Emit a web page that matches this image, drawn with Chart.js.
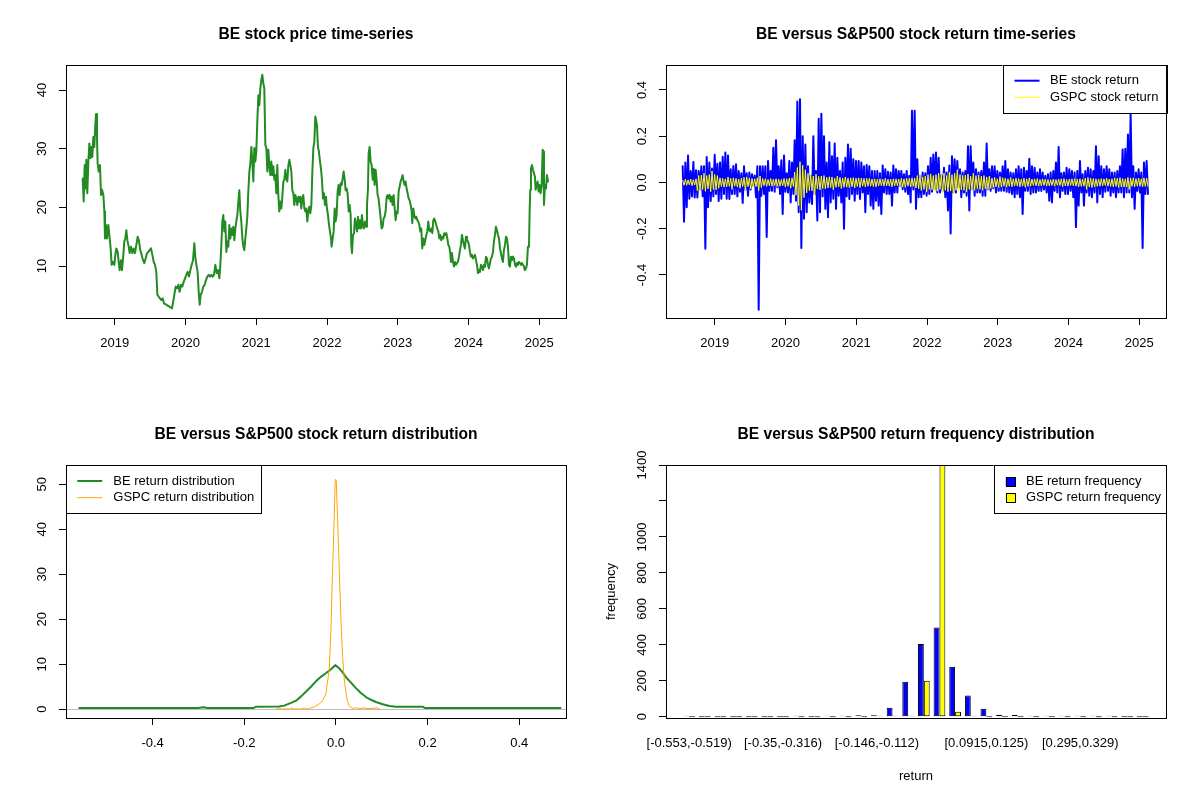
<!DOCTYPE html>
<html><head><meta charset="utf-8">
<script src="https://cdn.jsdelivr.net/npm/chart.js@4.4.1/dist/chart.umd.min.js"></script>
<style>
html,body{margin:0;padding:0;background:#fff;}
#wrap{position:relative;width:1200px;height:800px;background:#fff;}
.cell{position:absolute;width:600px;height:400px;}
canvas{display:block;}
</style></head><body>
<div id="wrap">
<div class="cell" style="left:0;top:0"><canvas id="c1" width="600" height="400"></canvas></div>
<div class="cell" style="left:600px;top:0"><canvas id="c2" width="600" height="400"></canvas></div>
<div class="cell" style="left:0;top:400px"><canvas id="c3" width="600" height="400"></canvas></div>
<div class="cell" style="left:600px;top:400px"><canvas id="c4" width="600" height="400"></canvas></div>
</div>
<script>
// ---------------- DATA ----------------
const yearTicks = [2019, 2020, 2021, 2022, 2023, 2024, 2025];
const priceYTicks = [10, 20, 30, 40];

const priceDates = [
2018.548,2018.562,2018.576,2018.590,2018.599,2018.613,2018.628,2018.642,2018.656,2018.670,
2018.684,2018.698,2018.712,2018.726,2018.736,2018.750,2018.759,2018.774,2018.792,2018.807,
2018.821,2018.840,2018.854,2018.863,2018.877,2018.891,2018.910,2018.929,2018.943,2018.957,
2018.976,2018.995,2019.009,2019.023,2019.042,2019.056,2019.070,2019.089,2019.103,2019.122,
2019.136,2019.150,2019.165,2019.179,2019.198,2019.212,2019.230,2019.249,2019.268,2019.287,
2019.306,2019.325,2019.344,2019.362,2019.381,2019.400,2019.419,2019.438,2019.457,2019.475,
2019.494,2019.513,2019.532,2019.551,2019.570,2019.588,2019.603,2019.621,2019.640,2019.659,
2019.678,2019.697,2019.716,2019.734,2019.753,2019.772,2019.791,2019.810,2019.824,2019.843,
2019.862,2019.880,2019.899,2019.918,2019.937,2019.956,2019.975,2019.994,2020.012,2020.031,
2020.050,2020.069,2020.088,2020.107,2020.125,2020.139,2020.154,2020.172,2020.187,2020.201,
2020.215,2020.234,2020.253,2020.271,2020.290,2020.309,2020.328,2020.347,2020.366,2020.384,
2020.403,2020.422,2020.441,2020.460,2020.479,2020.493,2020.507,2020.521,2020.535,2020.549,
2020.563,2020.578,2020.592,2020.606,2020.620,2020.634,2020.648,2020.662,2020.676,2020.691,
2020.705,2020.719,2020.733,2020.747,2020.761,2020.775,2020.789,2020.804,2020.818,2020.832,
2020.846,2020.860,2020.874,2020.888,2020.903,2020.917,2020.931,2020.945,2020.959,2020.973,
2020.987,2021.001,2021.015,2021.030,2021.044,2021.058,2021.072,2021.086,2021.100,2021.114,
2021.129,2021.143,2021.157,2021.171,2021.185,2021.199,2021.213,2021.228,2021.242,2021.256,
2021.270,2021.284,2021.298,2021.312,2021.326,2021.341,2021.355,2021.369,2021.383,2021.397,
2021.411,2021.425,2021.439,2021.454,2021.468,2021.482,2021.496,2021.510,2021.524,2021.538,
2021.552,2021.567,2021.581,2021.595,2021.609,2021.623,2021.637,2021.651,2021.665,2021.680,
2021.694,2021.708,2021.722,2021.736,2021.750,2021.764,2021.779,2021.793,2021.807,2021.821,
2021.835,2021.858,2021.872,2021.886,2021.901,2021.915,2021.929,2021.943,2021.957,2021.971,
2021.985,2021.999,2022.014,2022.028,2022.042,2022.056,2022.065,2022.080,2022.094,2022.108,
2022.122,2022.136,2022.150,2022.164,2022.178,2022.193,2022.207,2022.221,2022.235,2022.249,
2022.263,2022.277,2022.291,2022.306,2022.320,2022.334,2022.343,2022.353,2022.367,2022.381,
2022.395,2022.409,2022.423,2022.437,2022.452,2022.466,2022.480,2022.494,2022.508,2022.522,
2022.536,2022.551,2022.565,2022.579,2022.588,2022.602,2022.616,2022.631,2022.645,2022.659,
2022.673,2022.687,2022.701,2022.715,2022.729,2022.744,2022.758,2022.772,2022.786,2022.800,
2022.814,2022.828,2022.843,2022.857,2022.871,2022.885,2022.899,2022.913,2022.927,2022.941,
2022.956,2022.970,2022.984,2022.998,2023.012,2023.026,2023.040,2023.054,2023.069,2023.083,
2023.097,2023.111,2023.125,2023.139,2023.153,2023.167,2023.182,2023.196,2023.205,2023.219,
2023.233,2023.248,2023.262,2023.276,2023.290,2023.304,2023.318,2023.332,2023.346,2023.361,
2023.375,2023.389,2023.403,2023.417,2023.431,2023.445,2023.460,2023.474,2023.488,2023.502,
2023.516,2023.530,2023.544,2023.558,2023.573,2023.587,2023.601,2023.615,2023.629,2023.643,
2023.657,2023.671,2023.686,2023.700,2023.714,2023.728,2023.742,2023.752,2023.766,2023.780,
2023.794,2023.808,2023.822,2023.836,2023.850,2023.865,2023.879,2023.893,2023.907,2023.921,
2023.935,2023.949,2023.964,2023.978,2023.992,2024.006,2024.020,2024.034,2024.048,2024.062,
2024.077,2024.091,2024.105,2024.119,2024.133,2024.147,2024.161,2024.175,2024.190,2024.204,
2024.218,2024.232,2024.246,2024.260,2024.274,2024.288,2024.303,2024.317,2024.331,2024.345,
2024.359,2024.373,2024.387,2024.402,2024.416,2024.430,2024.444,2024.458,2024.472,2024.486,
2024.500,2024.515,2024.529,2024.543,2024.557,2024.571,2024.585,2024.599,2024.613,2024.628,
2024.642,2024.656,2024.670,2024.684,2024.698,2024.712,2024.726,2024.741,2024.755,2024.769,
2024.783,2024.797,2024.811,2024.825,2024.839,2024.854,2024.863,2024.872,2024.882,2024.896,
2024.910,2024.924,2024.938,2024.948,2024.962,2024.976,2024.990,2025.004,2025.018,2025.033,
2025.047,2025.056,2025.066,2025.080,2025.094,2025.108,2025.122
];
const priceValues = [
24.9,21.0,27.2,23.2,28.1,22.4,27.8,30.9,28.4,30.3,
28.6,32.0,30.3,34.0,35.9,31.8,27.5,26.1,27.2,22.1,
23.0,22.1,19.3,14.7,17.0,14.7,17.0,14.7,13.0,10.2,
10.7,10.2,11.9,13.0,12.4,10.7,9.3,11.0,9.3,11.9,
14.2,14.7,16.1,14.4,13.3,12.2,13.3,12.2,13.0,12.2,
13.6,15.0,14.2,12.7,11.9,11.0,10.5,11.3,12.2,12.4,
12.7,13.0,11.9,10.7,10.2,9.0,5.1,4.8,4.5,4.2,
4.5,3.6,3.5,3.4,3.2,3.1,2.9,2.8,3.8,5.1,
6.5,6.2,6.8,5.6,6.8,6.5,7.3,7.9,8.5,9.0,
8.2,9.3,10.2,11.0,13.9,11.6,10.2,9.0,5.6,3.4,
5.1,5.6,6.5,6.8,7.6,8.2,8.5,8.2,8.5,8.2,
8.5,10.2,8.8,9.3,7.9,10.2,13.6,17.6,18.7,15.9,
17.6,12.4,14.2,13.3,17.0,14.7,16.4,15.3,16.7,14.4,
16.4,17.6,18.7,21.0,22.9,19.3,17.6,14.7,13.3,12.7,
14.7,16.4,18.4,22.7,26.1,27.5,30.3,27.8,24.4,30.1,
27.8,29.5,34.6,39.1,37.4,40.3,41.7,42.6,41.1,40.3,
30.6,30.1,26.1,29.8,27.2,25.5,27.8,25.5,27.0,24.7,
25.5,22.4,27.2,22.1,19.3,21.0,19.8,21.8,24.4,24.7,
26.4,24.9,24.4,27.2,28.1,27.2,26.1,22.9,22.4,20.4,
22.1,21.5,20.4,21.8,21.0,21.8,19.8,21.5,22.1,19.8,
19.3,19.8,17.6,19.3,20.1,19.0,20.4,26.1,30.1,31.2,
35.5,34.0,30.3,29.5,27.8,26.6,24.7,21.5,22.4,20.4,
21.8,19.8,18.7,17.0,15.9,14.7,13.3,14.7,15.9,19.8,
17.6,18.7,22.7,23.8,22.1,24.1,23.8,24.9,26.1,24.9,
22.9,23.2,22.4,19.3,20.4,18.7,13.6,12.2,15.3,15.6,
18.1,17.0,15.9,18.4,16.4,17.8,16.4,18.7,16.7,16.4,
17.6,16.7,20.4,23.2,29.2,30.3,27.8,27.2,24.7,26.6,
23.8,26.4,24.7,22.1,21.5,19.8,18.1,16.4,16.7,18.1,
18.4,19.3,21.8,22.1,21.5,22.1,21.0,21.8,20.4,22.1,
19.8,17.8,19.3,19.0,22.7,23.5,24.4,24.9,25.5,24.4,
23.8,24.4,23.2,22.4,21.5,21.2,20.4,19.3,17.3,19.8,
18.7,18.1,18.4,17.8,17.6,17.0,15.9,16.4,13.0,14.7,
13.6,14.4,15.3,15.9,17.6,16.1,15.9,16.4,15.6,17.8,
18.1,17.6,17.0,16.4,15.9,14.7,15.3,14.4,15.0,14.7,
15.6,15.3,15.6,14.7,13.6,13.3,12.2,10.7,12.2,10.7,
9.9,10.7,10.2,10.5,10.7,11.6,12.7,13.6,15.3,14.4,
13.6,13.0,15.0,14.4,14.2,13.6,12.4,11.6,11.9,11.3,
11.6,11.9,11.0,10.2,8.8,9.3,9.0,10.2,9.9,9.3,
10.2,9.9,11.6,11.3,10.2,9.6,10.5,11.3,11.6,12.4,
14.2,15.3,16.7,16.1,15.3,14.7,13.0,12.2,11.3,10.7,
12.7,13.6,15.0,14.7,13.3,10.2,9.9,11.6,11.0,11.6,
11.3,10.2,9.9,10.5,10.2,10.7,10.5,10.2,10.5,10.2,
9.9,9.3,9.6,10.2,13.3,13.3,19.3,23.0,26.6,27.2,
26.4,25.8,25.2,23.0,23.8,24.4,22.7,23.8,22.4,23.8,
29.8,29.5,20.4,23.8,23.2,25.5,24.4
];

const returnYTicks = [-0.4, -0.2, 0, 0.2, 0.4];
const returnYTickLabels = ['-0.4', '-0.2', '0.0', '0.2', '0.4'];
const returnSeriesNames = ['BE stock return', 'GSPC stock return'];
const returnStart = 2018.548;
const returnEnd = 2025.122;
const beReturns = [
0.07,-0.17,0.086,-0.107,0.117,-0.07,0.05,-0.06,0.089,-0.065,
0.053,-0.065,0.05,-0.03,0.07,-0.06,0.07,-0.286,0.11,-0.107,
0.086,-0.08,0.06,-0.06,0.12,-0.05,0.081,-0.08,0.086,-0.07,
0.111,-0.05,0.13,-0.07,0.117,-0.071,0.057,-0.05,0.071,-0.05,
0.079,-0.06,0.05,-0.04,0.04,-0.089,0.07,-0.03,0.04,-0.057,
0.043,-0.03,0.036,-0.014,0.03,-0.064,0.07,-0.55,0.07,-0.057,
0.07,-0.05,0.07,-0.236,0.093,-0.036,0.05,-0.036,0.15,-0.04,
0.183,-0.021,0.07,-0.05,0.096,-0.136,0.117,-0.04,0.04,-0.043,
0.093,-0.086,0.086,-0.05,0.183,-0.079,0.35,-0.129,0.36,-0.283,
0.2,-0.157,0.164,-0.129,0.07,-0.086,0.029,-0.093,0.2,-0.05,
0.05,-0.164,0.276,-0.129,0.297,-0.06,0.2,-0.114,0.086,-0.15,
0.174,-0.086,0.114,-0.07,0.169,-0.114,0.107,-0.057,0.05,-0.086,
0.086,-0.2,0.107,-0.06,0.164,-0.071,0.146,-0.05,0.1,-0.079,
0.093,-0.05,0.093,-0.071,0.086,-0.043,0.07,-0.129,0.076,-0.05,
0.07,-0.1,0.05,-0.114,0.05,-0.079,0.05,-0.1,0.04,-0.136,
0.074,-0.043,0.057,-0.05,0.046,-0.05,0.043,-0.1,0.074,-0.043,
0.057,-0.043,0.05,-0.014,0.05,-0.029,0.036,-0.04,0.05,-0.05,
0.029,-0.086,0.31,-0.03,0.31,
-0.114,0.1,-0.064,0.029,-0.064,
0.043,-0.05,0.04,-0.057,0.07,-0.05,0.107,-0.04,0.121,-0.03,
0.13,-0.043,0.107,-0.043,0.03,-0.036,0.064,-0.064,0.043,-0.121,
0.074,-0.221,0.114,-0.043,0.1,-0.043,0.093,-0.021,0.057,-0.064,
0.043,-0.043,0.05,-0.057,0.157,-0.121,0.157,-0.029,0.086,-0.057,
0.057,-0.043,0.043,-0.043,0.05,-0.057,0.086,-0.057,0.169,-0.029,
0.057,-0.036,0.07,-0.025,0.07,-0.043,0.05,-0.036,0.043,-0.036,
0.07,-0.036,0.093,-0.04,0.057,-0.043,0.043,-0.05,0.04,-0.064,
0.057,-0.05,0.07,-0.064,0.057,-0.136,0.064,-0.036,0.05,-0.036,
0.103,-0.05,0.07,-0.043,0.064,-0.043,0.043,-0.036,0.057,-0.036,
0.043,-0.03,0.029,-0.043,0.036,-0.079,0.043,-0.086,0.05,-0.036,
0.086,-0.043,0.154,-0.064,0.04,-0.036,0.043,-0.05,0.064,-0.05,
0.057,-0.036,0.05,-0.064,0.043,-0.193,0.05,-0.1,0.093,-0.043,
0.036,-0.1,0.05,-0.043,0.064,-0.057,0.057,-0.064,0.05,-0.043,
0.157,-0.086,0.114,-0.05,0.07,-0.064,0.057,-0.04,0.07,-0.036,
0.057,-0.057,0.043,-0.043,0.043,-0.064,0.05,-0.043,0.07,-0.043,
0.143,-0.064,0.146,-0.043,0.207,-0.043,0.3,-0.064,0.07,-0.114,
0.043,-0.036,0.057,-0.043,0.043,-0.283,0.086,-0.05,0.093,-0.05
];
const gspcReturns = [
0.01,-0.012,0.014,-0.012,0.011,-0.01,0.015,-0.014,0.012,-0.011,0.016,
-0.036,0.03,-0.035,0.032,-0.03,0.04,-0.038,0.03,-0.028,0.035,-0.04,0.05,-0.03,0.035,-0.032,0.03,-0.025,
0.02,-0.017,0.018,-0.02,0.016,-0.019,0.024,-0.017,0.018,-0.03,0.02,-0.016,0.018,-0.02,0.015,-0.025,
0.019,-0.017,0.022,-0.032,0.024,-0.018,0.02,-0.028,0.017,-0.02,0.016,-0.018,
0.02,-0.035,0.028,-0.022,0.017,-0.014,0.016,-0.017,0.013,-0.014,0.017,-0.016,0.014,-0.013,
0.016,-0.017,0.014,-0.016,0.013,-0.014,0.017,-0.02,0.016,-0.017,0.019,-0.025,0.02,-0.017,
0.045,-0.055,0.065,-0.1,0.09,-0.12,0.075,-0.065,0.055,-0.045,0.04,-0.035,
0.032,-0.036,0.028,-0.057,0.036,-0.028,0.026,-0.032,0.028,-0.026,0.03,-0.028,0.022,-0.024,0.025,
-0.022,0.024,-0.032,0.019,-0.021,0.028,-0.019,0.022,-0.026,0.019,-0.021,0.024,-0.02,0.019,-0.022,
0.02,-0.019,0.021,-0.024,0.019,-0.018,0.02,-0.022,0.019,-0.016,0.018,-0.02,0.019,-0.016,0.018,
-0.016,0.015,-0.018,0.016,-0.019,0.014,-0.015,0.016,-0.014,0.015,-0.016,0.018,-0.015,0.014,-0.016,0.015,-0.019,
0.016,-0.015,0.016,-0.014,0.015,-0.016,0.018,-0.02,0.016,-0.022,0.019,-0.016,0.018,-0.019,0.02,-0.016,0.019,
-0.024,0.03,-0.027,0.032,-0.035,0.024,-0.03,0.027,-0.04,0.034,
-0.03,0.037,-0.032,0.03,-0.04,0.034,-0.037,0.04,-0.03,0.032,
-0.045,0.04,-0.034,0.03,-0.04,0.045,-0.037,0.034,-0.05,0.04,
-0.034,0.055,-0.04,0.034,-0.032,0.03,-0.034,0.032,-0.04,0.037,
-0.03,0.027,-0.032,0.04,-0.034,0.03,-0.027,0.032,-0.03,0.027,
-0.034,0.03,-0.027,0.024,-0.03,0.027,-0.025,
0.019,-0.021,0.022,-0.019,0.016,-0.022,0.026,-0.019,0.021,-0.016,
0.019,-0.02,0.016,-0.017,0.022,-0.019,0.016,-0.015,0.019,-0.016,
0.017,-0.019,0.015,-0.016,0.019,-0.021,0.016,-0.017,0.02,-0.016,
0.015,-0.013,0.016,-0.015,0.017,-0.016,0.013,-0.015,0.016,-0.013,
0.015,-0.016,0.013,-0.015,0.012,-0.013,0.015,-0.016,0.013,-0.012,
0.015,-0.013,0.016,-0.019,0.017,-0.015,0.013,-0.016,0.015,-0.013,
0.016,-0.015,0.017,-0.016,0.015,-0.019,0.016,-0.017,0.015,-0.016,
0.019,-0.03,0.022,-0.02,0.019,-0.022,0.017,-0.019,0.016,-0.017,
0.015,-0.016,0.017,-0.015,0.016,-0.013,0.019,-0.016,0.015,-0.017,
0.016,-0.019,0.02,-0.017,0.019,-0.022,0.021,-0.019,0.017,-0.02,
0.016,-0.019,0.022,-0.03,0.019,-0.017,0.02,-0.019,0.017,-0.016,
0.019,-0.017,0.016,-0.019,0.02,-0.017,0.019,-0.016
];

const densityXTicks = [-0.4, -0.2, 0, 0.2, 0.4];
const densityXTickLabels = ['-0.4', '-0.2', '0.0', '0.2', '0.4'];
const densityYTicks = [0, 10, 20, 30, 40, 50];
const densitySeriesNames = ['BE return distribution', 'GSPC return distribution'];
const beDensityX = [-0.56,-0.30,-0.29,-0.28,-0.18,-0.175,-0.124,-0.113,-0.098,-0.087,-0.0765,-0.0656,-0.0546,-0.0437,-0.0328,-0.0219,-0.0109,-0.0015,0.0073,0.0146,0.0219,0.0328,0.0437,0.0546,0.0656,0.0765,0.0874,0.102,0.117,0.131,0.189,0.195,0.49];
const beDensityY = [0.25,0.25,0.45,0.25,0.25,0.55,0.6,0.8,1.4,1.9,2.8,3.9,5.0,6.2,7.2,8.0,8.9,9.8,9.1,8.2,7.1,5.9,4.7,3.6,2.7,2.1,1.6,1.1,0.7,0.55,0.55,0.25,0.25];
const gspcDensityX = [-0.13,-0.125,-0.12,-0.10,-0.097,-0.093,-0.075,-0.07,-0.065,-0.06,-0.0546,-0.0474,-0.0364,-0.0291,-0.0219,-0.0146,-0.0109,-0.0073,-0.0036,-0.0015,0.0007,0.0036,0.0073,0.0109,0.0146,0.0182,0.0219,0.0255,0.0291,0.0364,0.045,0.05,0.06,0.07,0.09,0.095];
const gspcDensityY = [0.05,0.3,0.05,0.05,0.3,0.05,0.05,0.3,0.05,0.1,0.3,0.5,1.2,1.9,3.4,8.8,17.7,31,42.9,51.1,50.9,42.2,31,19.9,11.7,6.5,3.6,1.7,0.7,0.2,0.3,0.1,0.3,0.1,0.3,0.05];

const returnBins = [
'[-0.553,-0.519)','[-0.519,-0.485)','[-0.485,-0.451)','[-0.451,-0.417)','[-0.417,-0.384)',
'[-0.384,-0.35)','[-0.35,-0.316)','[-0.316,-0.282)','[-0.282,-0.248)','[-0.248,-0.214)',
'[-0.214,-0.18)','[-0.18,-0.146)','[-0.146,-0.112)','[-0.112,-0.0782)','[-0.0782,-0.0443)',
'[-0.0443,-0.0104)','[-0.0104,0.0235)','[0.0235,0.0575)','[0.0575,0.0915)','[0.0915,0.125)',
'[0.125,0.159)','[0.159,0.193)','[0.193,0.227)','[0.227,0.261)','[0.261,0.295)',
'[0.295,0.329)','[0.329,0.363)','[0.363,0.397)','[0.397,0.431)','[0.431,0.465]'
];
const shownBinIndex = [0, 6, 12, 19, 25];
const beFrequency = [1,0,0,0,0,0,0,3,0,2,3,8,8,50,195,405,497,278,118,45,11,10,5,1,1,4,1,1,0,0];
const gspcFrequency = [0,0,0,0,0,0,0,0,0,0,0,0,1,2,6,200,1410,28,3,0,0,0,0,0,0,0,0,0,0,0];
const frequencySeriesNames = ['BE return frequency', 'GSPC return frequency'];
const freqYTicks = [0, 200, 400, 600, 800, 1000, 1200, 1400];
const freqYTickLabels = ['0', '200', '400', '600', '800', '1000', '', '1400'];

// ---------------- SETUP ----------------
const FONT = '"Liberation Sans", Arial, Helvetica, sans-serif';
Chart.defaults.font.family = FONT;
Chart.defaults.font.size = 13;
Chart.defaults.color = '#000';

function widest(labels) {
  const c = document.createElement('canvas').getContext('2d');
  c.font = '13px ' + FONT;
  return Math.max(...labels.filter(Boolean).map(l => c.measureText(l).width));
}

function makeY(min, max, ticks, labels, title) {
  const w = widest(labels);
  const s = {
    type: 'linear', position: 'left', min, max, offset: false,
    afterBuildTicks: sc => { sc.ticks = ticks.map(v => ({ value: v })); },
    afterFit: sc => { sc.width = 66; },
    grid: { display: true, drawOnChartArea: false, drawTicks: true, tickLength: 7, color: '#000', lineWidth: 1, offset: false },
    border: { display: false },
    ticks: { autoSkip: false, minRotation: 90, maxRotation: 90, crossAlign: 'center', padding: 17 - w / 2,
      color: '#000', font: { size: 13 }, callback: (v, i) => labels[i] }
  };
  if (title) s.title = { display: true, text: title, color: '#000', font: { size: 13 }, padding: { top: 3.7, bottom: 0 } };
  return s;
}

function makeX(min, max, ticks, labels, opt) {
  opt = opt || {};
  const marks = opt.marks !== false;
  const s = {
    type: 'linear', position: 'bottom', min, max, offset: false,
    afterBuildTicks: sc => { sc.ticks = ticks.map(v => ({ value: v })); },
    afterFit: sc => { sc.height = 82; },
    grid: { display: marks, drawOnChartArea: false, drawTicks: marks, tickLength: 7, color: '#000', lineWidth: 1, offset: false },
    border: { display: false },
    ticks: { autoSkip: false, minRotation: 0, maxRotation: 0, padding: marks ? 10.2 : 17.7,
      color: '#000', font: { size: 13 }, callback: (v, i) => labels[i] }
  };
  if (opt.title) s.title = { display: true, text: opt.title, color: '#000', font: { size: 13 }, padding: { top: 0, bottom: 16.2 } };
  return s;
}

const rBox = {
  id: 'rBox',
  afterDatasetsDraw(chart) {
    const { ctx, chartArea: a } = chart;
    ctx.save();
    ctx.strokeStyle = '#000'; ctx.lineWidth = 1;
    ctx.strokeRect(Math.round(a.left) + 0.5, Math.round(a.top) + 0.5, Math.round(a.right - a.left), Math.round(a.bottom - a.top));
    ctx.restore();
  }
};

const zeroLine = {
  id: 'zeroLine',
  beforeDatasetsDraw(chart) {
    const { ctx, chartArea: a, scales } = chart;
    const y = Math.round(scales.y.getPixelForValue(0)) + 0.5;
    ctx.save();
    ctx.strokeStyle = '#BEBEBE'; ctx.lineWidth = 1;
    ctx.beginPath(); ctx.moveTo(a.left, y); ctx.lineTo(a.right, y); ctx.stroke();
    ctx.restore();
  }
};

const rLegend = {
  id: 'rLegend',
  afterDraw(chart, args, o) {
    if (!o || !o.box) return;
    const ctx = chart.ctx;
    const [x1, y1, x2, y2] = o.box;
    ctx.save();
    ctx.fillStyle = '#fff';
    ctx.fillRect(x1, y1, x2 - x1, y2 - y1);
    ctx.strokeStyle = '#000'; ctx.lineWidth = 1;
    ctx.strokeRect(Math.round(x1) + 0.5, Math.round(y1) + 0.5, Math.round(x2 - x1), Math.round(y2 - y1));
    chart.data.datasets.forEach((ds, k) => {
      const y = o.rows[k];
      if (o.kind === 'box') {
        const h = o.boxH;
        ctx.fillStyle = ds.backgroundColor;
        ctx.fillRect(o.sample[0], y - h / 2, o.sample[1] - o.sample[0], h);
        ctx.strokeStyle = '#000'; ctx.lineWidth = 1;
        ctx.strokeRect(Math.round(o.sample[0]) + 0.5, Math.round(y - h / 2) + 0.5, Math.round(o.sample[1] - o.sample[0]), Math.round(h));
      } else {
        ctx.strokeStyle = ds.borderColor; ctx.lineWidth = ds.borderWidth; ctx.lineCap = 'butt';
        ctx.beginPath(); ctx.moveTo(o.sample[0], y); ctx.lineTo(o.sample[1], y); ctx.stroke();
      }
      ctx.fillStyle = '#000'; ctx.font = '13px ' + FONT;
      ctx.textAlign = 'left'; ctx.textBaseline = 'middle';
      ctx.fillText(ds.label, o.textX, y);
    });
    ctx.restore();
  }
};

function baseOptions(title, xs, ys, legend) {
  return {
    responsive: false, animation: false, devicePixelRatio: 1, events: [],
    layout: { padding: { left: 0, right: 34, top: 0, bottom: 0 } },
    plugins: {
      legend: { display: false }, tooltip: { enabled: false },
      title: { display: true, text: title, fullSize: false, color: '#000', font: { size: 15.6, weight: 'bold' }, padding: { top: 25.6, bottom: 20.7 } },
      rLegend: legend || {}
    },
    scales: { x: xs, y: ys }
  };
}

const lineStyle = { pointRadius: 0, tension: 0, borderJoinStyle: 'round', borderCapStyle: 'round', fill: false };

// ---------------- CHART 1: price ----------------
new Chart(document.getElementById('c1'), {
  type: 'line',
  data: { datasets: [Object.assign({
    label: 'BE stock price',
    data: priceDates.map((d, i) => ({ x: d, y: priceValues[i] })),
    borderColor: '#228B22', borderWidth: 2 }, lineStyle)] },
  options: baseOptions('BE stock price time-series',
    makeX(2018.312, 2025.377, yearTicks, yearTicks.map(String)),
    makeY(1.14, 44.26, priceYTicks, priceYTicks.map(String))),
  plugins: [rBox]
});

// ---------------- CHART 2: returns ----------------
const retX = (arr) => arr.map((v, i) => ({ x: returnStart + i * (returnEnd - returnStart) / (arr.length - 1), y: v }));
new Chart(document.getElementById('c2'), {
  type: 'line',
  data: { datasets: [
    Object.assign({ label: returnSeriesNames[0], data: retX(beReturns), borderColor: '#0000FF', borderWidth: 2, order: 1 }, lineStyle),
    Object.assign({ label: returnSeriesNames[1], data: retX(gspcReturns), borderColor: '#FFFF00', borderWidth: 1, order: 0 }, lineStyle)
  ] },
  options: baseOptions('BE versus S&P500 stock return time-series',
    makeX(2018.312, 2025.377, yearTicks, yearTicks.map(String)),
    makeY(-0.586, 0.508, returnYTicks, returnYTickLabels),
    { box: [402.5, 65, 566, 113.3], rows: [80.7, 97.3], sample: [414.5, 439.5], textX: 450, kind: 'line' }),
  plugins: [rBox, rLegend]
});

// ---------------- CHART 3: density ----------------
new Chart(document.getElementById('c3'), {
  type: 'line',
  data: { datasets: [
    Object.assign({ label: densitySeriesNames[0], data: beDensityX.map((x, i) => ({ x, y: beDensityY[i] })), borderColor: '#228B22', borderWidth: 2, order: 1 }, lineStyle),
    Object.assign({ label: densitySeriesNames[1], data: gspcDensityX.map((x, i) => ({ x, y: gspcDensityY[i] })), borderColor: '#FFA500', borderWidth: 1, order: 0 }, lineStyle)
  ] },
  options: baseOptions('BE versus S&P500 stock return distribution',
    makeX(-0.589, 0.502, densityXTicks, densityXTickLabels),
    makeY(-1.95, 54.3, densityYTicks, densityYTicks.map(String)),
    { box: [66, 65, 260.5, 113.3], rows: [81, 97.7], sample: [77.3, 102.2], textX: 113.3, kind: 'line' }),
  plugins: [zeroLine, rBox, rLegend]
});

// ---------------- CHART 4: frequency ----------------
const barStyle = { borderColor: '#000', borderWidth: 1, borderSkipped: false, minBarLength: 1, categoryPercentage: 0.75, barPercentage: 1 };
new Chart(document.getElementById('c4'), {
  type: 'bar',
  data: { datasets: [
    Object.assign({ label: frequencySeriesNames[0], data: returnBins.map((b, i) => ({ x: i, y: beFrequency[i] })), backgroundColor: '#0000FF' }, barStyle),
    Object.assign({ label: frequencySeriesNames[1], data: returnBins.map((b, i) => ({ x: i, y: gspcFrequency[i] })), backgroundColor: '#FFFF00' }, barStyle)
  ] },
  options: baseOptions('BE versus S&P500 return frequency distribution',
    makeX(-1.48, 30.48, shownBinIndex, shownBinIndex.map(i => returnBins[i]), { marks: false, title: 'return' }),
    makeY(-7, 1400, freqYTicks, freqYTickLabels, 'frequency'),
    { box: [393.6, 65, 566, 113.3], rows: [81.7, 97.8], sample: [405.8, 415], boxH: 8.7, textX: 426, kind: 'box' }),
  plugins: [rBox, rLegend]
});
</script>
</body></html>
